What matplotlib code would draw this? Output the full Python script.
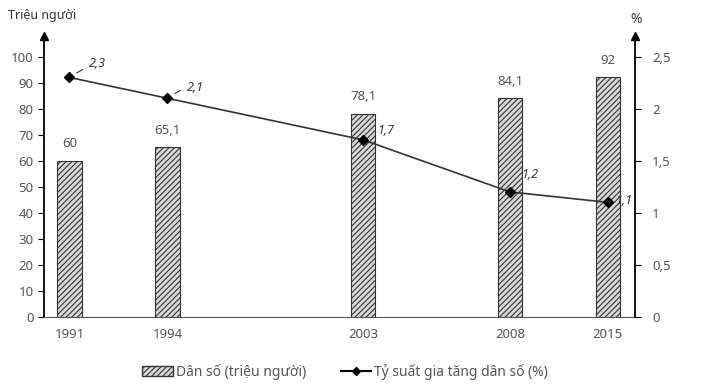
import numpy as np
import matplotlib.pyplot as plt
from matplotlib.patches import Patch
from matplotlib.lines import Line2D

plt.rcParams['font.family'] = ['Noto Sans', 'DejaVu Sans']
plt.rcParams['hatch.color'] = '#444444'
plt.rcParams['hatch.linewidth'] = 0.8

years = ['1991', '1994', '2003', '2008', '2015']
xpos = [0, 1, 3, 4.5, 5.5]          # vị trí các năm trên trục hoành
dan_so = [60, 65.1, 78.1, 84.1, 92]
dan_so_lbl = ['60', '65,1', '78,1', '84,1', '92']
ty_suat = [2.3, 2.1, 1.7, 1.2, 1.1]
ty_suat_lbl = ['2,3', '2,1', '1,7', '1,2', '1,1']

txt = '#555555'

fig = plt.figure(figsize=(7.04, 3.85), dpi=100)
ax = fig.add_axes([0.0625, 0.177, 0.84, 0.73])
ax.bar(xpos, dan_so, width=0.25, color='#d8d8d8', edgecolor='#333333',
       hatch='//////', linewidth=0.8, zorder=2)
for x, v, s in zip(xpos, dan_so, dan_so_lbl):
    ax.text(x, v + 4, s, ha='center', va='bottom', fontsize=9.5, color=txt)

ax.set_xlim(-0.26, 5.78)
ax.set_ylim(0, 108)
ax.set_yticks(range(0, 101, 10))
ax.set_xticks(xpos)
ax.set_xticklabels(years)
ax.tick_params(axis='x', length=0, pad=8, labelsize=9.5, labelcolor=txt)
ax.tick_params(axis='y', direction='out', length=4, labelsize=9.5, labelcolor=txt)
for sp in ['top', 'right']:
    ax.spines[sp].set_visible(False)
ax.spines['left'].set_linewidth(1.3)
ax.spines['bottom'].set_color('#555555')

ax2 = ax.twinx()
ax2.plot(xpos, ty_suat, color='#333333', lw=1.2, marker='D', ms=5,
         mfc='black', mec='black', zorder=4)
ax2.set_ylim(0, 2.7)
ax2.set_yticks([0, 0.5, 1, 1.5, 2, 2.5])
ax2.set_yticklabels(['0', '0,5', '1', '1,5', '2', '2,5'])
ax2.tick_params(axis='y', direction='out', length=4, labelsize=9.5,
                labelcolor=txt, pad=8)
for sp in ['top', 'left', 'bottom']:
    ax2.spines[sp].set_visible(False)
ax2.spines['right'].set_linewidth(1.3)

offs = [(14, 5), (14, 3), (10, 2), (8, 8), (5, -3)]
for x, v, s, (dx, dy) in zip(xpos, ty_suat, ty_suat_lbl, offs):
    ax2.annotate(s, (x, v), xytext=(dx, dy), textcoords='offset points',
                 fontsize=9, fontstyle='italic', fontweight='bold',
                 color='#333333', va='bottom', zorder=6)
for i in range(2):
    ax2.annotate('', (xpos[i] + 0.05, ty_suat[i] + 0.03),
                 xytext=(xpos[i] + 0.16, ty_suat[i] + 0.09),
                 arrowprops=dict(arrowstyle='-', color='#333333', lw=0.8))

# mũi tên đầu trục
ax.plot([0], [1.0], marker='^', color='black', ms=6, transform=ax.transAxes,
        clip_on=False)
ax.plot([1], [1.0], marker='^', color='black', ms=6, transform=ax.transAxes,
        clip_on=False)

fig.text(0.012, 0.95, 'Triệu người', fontsize=9, color='#333333')
fig.text(0.895, 0.94, '%', fontsize=10, color='#333333')

handles = [Patch(facecolor='#d8d8d8', edgecolor='#333333', hatch='//////'),
           Line2D([], [], color='black', marker='D', ms=4)]
fig.legend(handles, ['Dân số (triệu người)', 'Tỷ suất gia tăng dân số (%)'],
           loc='lower center', bbox_to_anchor=(0.49, -0.02), ncol=2,
           frameon=False, fontsize=10, handlelength=2.2, columnspacing=2.5,
           handletextpad=0.2, labelcolor=txt)

fig.savefig('out.png', dpi=100)
